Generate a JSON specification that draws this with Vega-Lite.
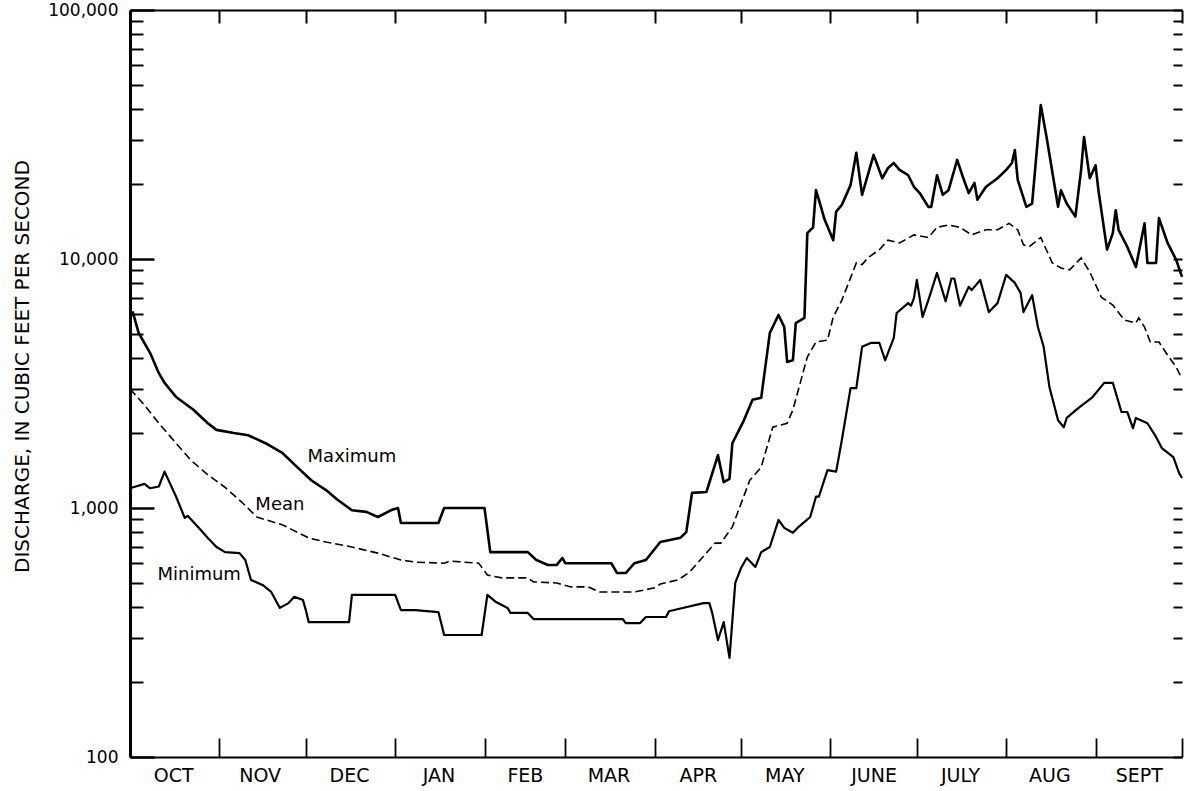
{
  "$schema": "https://vega.github.io/schema/vega-lite/v6.json",
  "width": 1052,
  "height": 747,
  "autosize": {"type": "none"},
  "padding": {"left": 130, "top": 10, "right": 3, "bottom": 34},
  "background": "white",
  "config": {
    "view": {"stroke": null},
    "axis": {
      "grid": false,
      "domainColor": "black",
      "tickColor": "black",
      "labelColor": "black",
      "titleColor": "black",
      "labelFont": "DejaVu Sans",
      "titleFont": "DejaVu Sans",
      "titleFontWeight": "normal"
    }
  },
  "datasets": {
    "maximum": [
      {"day": 0, "cfs": 5800}, {"day": 1, "cfs": 6100}, {"day": 3, "cfs": 5050}, {"day": 7, "cfs": 4190},
      {"day": 10, "cfs": 3480}, {"day": 12, "cfs": 3180}, {"day": 16, "cfs": 2790}, {"day": 22, "cfs": 2480},
      {"day": 27, "cfs": 2190}, {"day": 30, "cfs": 2060}, {"day": 36, "cfs": 2000}, {"day": 41, "cfs": 1960},
      {"day": 47, "cfs": 1820}, {"day": 53, "cfs": 1660}, {"day": 58, "cfs": 1460}, {"day": 63, "cfs": 1290},
      {"day": 68, "cfs": 1180}, {"day": 72, "cfs": 1080}, {"day": 77, "cfs": 980}, {"day": 82, "cfs": 965},
      {"day": 86, "cfs": 920}, {"day": 91, "cfs": 985}, {"day": 93, "cfs": 1000}, {"day": 94, "cfs": 870},
      {"day": 107, "cfs": 870}, {"day": 109, "cfs": 1000}, {"day": 123, "cfs": 1000}, {"day": 125, "cfs": 665},
      {"day": 138, "cfs": 665}, {"day": 141, "cfs": 618}, {"day": 145, "cfs": 590}, {"day": 148, "cfs": 590},
      {"day": 150, "cfs": 630}, {"day": 151, "cfs": 600}, {"day": 167, "cfs": 600}, {"day": 169, "cfs": 548},
      {"day": 172, "cfs": 548}, {"day": 175, "cfs": 600}, {"day": 179, "cfs": 618}, {"day": 184, "cfs": 730},
      {"day": 191, "cfs": 760}, {"day": 193, "cfs": 800}, {"day": 195, "cfs": 1150}, {"day": 200, "cfs": 1160},
      {"day": 204, "cfs": 1630}, {"day": 206, "cfs": 1270}, {"day": 208, "cfs": 1310}, {"day": 209, "cfs": 1820},
      {"day": 213, "cfs": 2250}, {"day": 216, "cfs": 2720}, {"day": 219, "cfs": 2770}, {"day": 222, "cfs": 5050},
      {"day": 225, "cfs": 5960}, {"day": 227, "cfs": 5330}, {"day": 228, "cfs": 3860}, {"day": 230, "cfs": 3920},
      {"day": 231, "cfs": 5530}, {"day": 234, "cfs": 5800}, {"day": 235, "cfs": 12700}, {"day": 237, "cfs": 13400},
      {"day": 238, "cfs": 18900}, {"day": 239, "cfs": 17300}, {"day": 241, "cfs": 14400}, {"day": 244, "cfs": 11900},
      {"day": 245, "cfs": 15500}, {"day": 247, "cfs": 16500}, {"day": 250, "cfs": 19800}, {"day": 252, "cfs": 26700},
      {"day": 254, "cfs": 18100}, {"day": 258, "cfs": 26200}, {"day": 261, "cfs": 21100}, {"day": 263, "cfs": 23200},
      {"day": 265, "cfs": 24300}, {"day": 267, "cfs": 22800}, {"day": 270, "cfs": 21700}, {"day": 272, "cfs": 19500},
      {"day": 274, "cfs": 18400}, {"day": 277, "cfs": 16200}, {"day": 278, "cfs": 16200}, {"day": 280, "cfs": 21700},
      {"day": 282, "cfs": 18100}, {"day": 284, "cfs": 18900}, {"day": 287, "cfs": 25000}, {"day": 289, "cfs": 21300},
      {"day": 291, "cfs": 18400}, {"day": 293, "cfs": 20200}, {"day": 294, "cfs": 17300}, {"day": 297, "cfs": 19500},
      {"day": 301, "cfs": 21100}, {"day": 304, "cfs": 22800}, {"day": 306, "cfs": 24300}, {"day": 307, "cfs": 27400},
      {"day": 308, "cfs": 20800}, {"day": 311, "cfs": 16200}, {"day": 313, "cfs": 16700}, {"day": 316, "cfs": 41500},
      {"day": 318, "cfs": 30900}, {"day": 322, "cfs": 16200}, {"day": 323, "cfs": 18900}, {"day": 325, "cfs": 16700},
      {"day": 328, "cfs": 14800}, {"day": 330, "cfs": 22800}, {"day": 331, "cfs": 30900}, {"day": 333, "cfs": 21100},
      {"day": 335, "cfs": 23800}, {"day": 336, "cfs": 18900}, {"day": 339, "cfs": 10900}, {"day": 341, "cfs": 12700},
      {"day": 342, "cfs": 15700}, {"day": 343, "cfs": 13100}, {"day": 346, "cfs": 11200}, {"day": 349, "cfs": 9290},
      {"day": 352, "cfs": 13900}, {"day": 353, "cfs": 9640}, {"day": 356, "cfs": 9640}, {"day": 357, "cfs": 14600},
      {"day": 360, "cfs": 11600}, {"day": 363, "cfs": 9910}, {"day": 365, "cfs": 8470}
    ],
    "mean": [
      {"day": 0, "cfs": 3000}, {"day": 1, "cfs": 2920}, {"day": 5, "cfs": 2590}, {"day": 10, "cfs": 2190},
      {"day": 16, "cfs": 1820}, {"day": 21, "cfs": 1560}, {"day": 27, "cfs": 1360}, {"day": 33, "cfs": 1210},
      {"day": 39, "cfs": 1050}, {"day": 44, "cfs": 920}, {"day": 53, "cfs": 855}, {"day": 62, "cfs": 758},
      {"day": 68, "cfs": 730}, {"day": 77, "cfs": 697}, {"day": 86, "cfs": 659}, {"day": 94, "cfs": 618},
      {"day": 99, "cfs": 606}, {"day": 109, "cfs": 600}, {"day": 111, "cfs": 612}, {"day": 121, "cfs": 600},
      {"day": 124, "cfs": 538}, {"day": 129, "cfs": 524}, {"day": 138, "cfs": 524}, {"day": 140, "cfs": 505},
      {"day": 148, "cfs": 500}, {"day": 153, "cfs": 482}, {"day": 159, "cfs": 482}, {"day": 163, "cfs": 460},
      {"day": 175, "cfs": 460}, {"day": 182, "cfs": 478}, {"day": 184, "cfs": 495}, {"day": 190, "cfs": 514},
      {"day": 194, "cfs": 550}, {"day": 203, "cfs": 723}, {"day": 205, "cfs": 723}, {"day": 209, "cfs": 840},
      {"day": 215, "cfs": 1290}, {"day": 219, "cfs": 1460}, {"day": 223, "cfs": 2110}, {"day": 228, "cfs": 2190},
      {"day": 230, "cfs": 2480}, {"day": 235, "cfs": 4040}, {"day": 238, "cfs": 4640}, {"day": 242, "cfs": 4720},
      {"day": 244, "cfs": 5850}, {"day": 247, "cfs": 6840}, {"day": 252, "cfs": 9640}, {"day": 254, "cfs": 9500},
      {"day": 256, "cfs": 10100}, {"day": 260, "cfs": 10900}, {"day": 263, "cfs": 11900}, {"day": 267, "cfs": 11600},
      {"day": 272, "cfs": 12500}, {"day": 277, "cfs": 12200}, {"day": 280, "cfs": 13400}, {"day": 284, "cfs": 13700},
      {"day": 288, "cfs": 13400}, {"day": 292, "cfs": 12500}, {"day": 297, "cfs": 13100}, {"day": 301, "cfs": 13100},
      {"day": 305, "cfs": 13900}, {"day": 308, "cfs": 13100}, {"day": 310, "cfs": 11400}, {"day": 312, "cfs": 11200},
      {"day": 316, "cfs": 12200}, {"day": 320, "cfs": 9640}, {"day": 323, "cfs": 9200}, {"day": 326, "cfs": 9040},
      {"day": 330, "cfs": 10100}, {"day": 333, "cfs": 8870}, {"day": 337, "cfs": 7030}, {"day": 341, "cfs": 6530},
      {"day": 345, "cfs": 5690}, {"day": 349, "cfs": 5530}, {"day": 350, "cfs": 5800}, {"day": 352, "cfs": 5330},
      {"day": 354, "cfs": 4640}, {"day": 357, "cfs": 4640}, {"day": 360, "cfs": 4110}, {"day": 363, "cfs": 3680},
      {"day": 365, "cfs": 3300}
    ],
    "minimum": [
      {"day": 0, "cfs": 1200}, {"day": 2, "cfs": 1220}, {"day": 5, "cfs": 1250}, {"day": 7, "cfs": 1200},
      {"day": 10, "cfs": 1220}, {"day": 12, "cfs": 1400}, {"day": 16, "cfs": 1110}, {"day": 19, "cfs": 912},
      {"day": 20, "cfs": 930}, {"day": 24, "cfs": 830}, {"day": 27, "cfs": 758}, {"day": 30, "cfs": 697},
      {"day": 33, "cfs": 665}, {"day": 38, "cfs": 659}, {"day": 40, "cfs": 618}, {"day": 42, "cfs": 514},
      {"day": 46, "cfs": 491}, {"day": 49, "cfs": 460}, {"day": 52, "cfs": 397}, {"day": 55, "cfs": 415},
      {"day": 57, "cfs": 440}, {"day": 60, "cfs": 427}, {"day": 61, "cfs": 389}, {"day": 62, "cfs": 348},
      {"day": 76, "cfs": 348}, {"day": 77, "cfs": 448}, {"day": 92, "cfs": 448}, {"day": 94, "cfs": 389},
      {"day": 99, "cfs": 389}, {"day": 107, "cfs": 382}, {"day": 109, "cfs": 309}, {"day": 122, "cfs": 309},
      {"day": 124, "cfs": 448}, {"day": 127, "cfs": 419}, {"day": 131, "cfs": 397}, {"day": 132, "cfs": 379},
      {"day": 138, "cfs": 379}, {"day": 140, "cfs": 358}, {"day": 171, "cfs": 358}, {"day": 172, "cfs": 345},
      {"day": 177, "cfs": 345}, {"day": 179, "cfs": 365}, {"day": 186, "cfs": 365}, {"day": 187, "cfs": 385},
      {"day": 191, "cfs": 395}, {"day": 199, "cfs": 415}, {"day": 201, "cfs": 415}, {"day": 202, "cfs": 379},
      {"day": 204, "cfs": 295}, {"day": 206, "cfs": 348}, {"day": 208, "cfs": 250}, {"day": 210, "cfs": 500},
      {"day": 212, "cfs": 574}, {"day": 214, "cfs": 630}, {"day": 217, "cfs": 580}, {"day": 219, "cfs": 665},
      {"day": 222, "cfs": 697}, {"day": 225, "cfs": 895}, {"day": 227, "cfs": 832}, {"day": 230, "cfs": 795},
      {"day": 232, "cfs": 840}, {"day": 236, "cfs": 920}, {"day": 238, "cfs": 1110}, {"day": 239, "cfs": 1110},
      {"day": 242, "cfs": 1420}, {"day": 245, "cfs": 1400}, {"day": 247, "cfs": 1880}, {"day": 250, "cfs": 3030},
      {"day": 252, "cfs": 3030}, {"day": 254, "cfs": 4440}, {"day": 257, "cfs": 4600}, {"day": 260, "cfs": 4600},
      {"day": 262, "cfs": 3920}, {"day": 265, "cfs": 4820}, {"day": 266, "cfs": 6070}, {"day": 270, "cfs": 6650},
      {"day": 271, "cfs": 6500}, {"day": 272, "cfs": 6970}, {"day": 273, "cfs": 8240}, {"day": 275, "cfs": 5850},
      {"day": 277, "cfs": 6840}, {"day": 280, "cfs": 8790}, {"day": 283, "cfs": 6760}, {"day": 285, "cfs": 8350},
      {"day": 286, "cfs": 8350}, {"day": 288, "cfs": 6500}, {"day": 291, "cfs": 7730}, {"day": 292, "cfs": 7500},
      {"day": 295, "cfs": 8240}, {"day": 298, "cfs": 6120}, {"day": 301, "cfs": 6650}, {"day": 304, "cfs": 8630},
      {"day": 307, "cfs": 8020}, {"day": 309, "cfs": 7300}, {"day": 310, "cfs": 6120}, {"day": 313, "cfs": 7160},
      {"day": 315, "cfs": 5330}, {"day": 317, "cfs": 4440}, {"day": 319, "cfs": 3060}, {"day": 322, "cfs": 2250},
      {"day": 324, "cfs": 2110}, {"day": 325, "cfs": 2300}, {"day": 329, "cfs": 2520}, {"day": 334, "cfs": 2790},
      {"day": 338, "cfs": 3180}, {"day": 341, "cfs": 3180}, {"day": 344, "cfs": 2430}, {"day": 346, "cfs": 2430},
      {"day": 348, "cfs": 2090}, {"day": 349, "cfs": 2300}, {"day": 353, "cfs": 2190}, {"day": 356, "cfs": 1930},
      {"day": 358, "cfs": 1740}, {"day": 362, "cfs": 1600}, {"day": 364, "cfs": 1380}, {"day": 365, "cfs": 1320}
    ],
    "labels": [
      {"day": 77, "cfs": 1600, "label": "Maximum"},
      {"day": 52, "cfs": 1030, "label": "Mean"},
      {"day": 24, "cfs": 538, "label": "Minimum"}
    ]
  },
  "resolve": {"axis": {"x": "independent", "y": "independent"}},
  "layer": [
    {
      "data": {"name": "maximum"},
      "mark": {"type": "line", "color": "black", "strokeWidth": 2.6, "strokeJoin": "round"},
      "encoding": {
        "x": {
          "field": "day", "type": "quantitative",
          "scale": {"domain": [0, 365], "nice": false, "zero": false},
          "axis": {
            "orient": "bottom",
            "values": [15, 45, 76, 107, 137, 166, 197, 227, 258, 288, 319, 350],
            "labelExpr": "['OCT','NOV','DEC','JAN','FEB','MAR','APR','MAY','JUNE','JULY','AUG','SEPT'][indexof([15,45,76,107,137,166,197,227,258,288,319,350], datum.value)]",
            "ticks": false,
            "labelPadding": 9,
            "labelFontSize": 19,
            "labelFlush": false,
            "labelOverlap": false,
            "domainWidth": 2,
            "title": null
          }
        },
        "y": {
          "field": "cfs", "type": "quantitative",
          "scale": {"type": "log", "domain": [100, 100000], "nice": false},
          "axis": {
            "orient": "left",
            "values": [100, 1000, 10000, 100000],
            "labelExpr": "format(datum.value, ',')",
            "ticks": false,
            "labelPadding": 12,
            "labelFontSize": 17,
            "labelFlush": false,
            "domainWidth": 3,
            "title": "DISCHARGE, IN CUBIC FEET PER SECOND",
            "titleFontSize": 20,
            "titleX": -108,
            "titleY": 356,
            "titleAngle": 270,
            "titleAlign": "center",
            "titleBaseline": "middle"
          }
        }
      }
    },
    {
      "data": {"name": "mean"},
      "mark": {"type": "line", "color": "black", "strokeWidth": 1.6, "strokeDash": [8, 4]},
      "encoding": {
        "x": {
          "field": "day", "type": "quantitative",
          "axis": {
            "orient": "bottom",
            "values": [0, 31, 61, 92, 123, 151, 182, 212, 243, 273, 304, 335, 365],
            "tickSize": -19, "tickWidth": 1.8,
            "labels": false, "domain": false, "title": null
          }
        },
        "y": {
          "field": "cfs", "type": "quantitative",
          "axis": {
            "orient": "left",
            "values": [100, 1000, 10000, 100000],
            "tickSize": -24, "tickWidth": 2.5,
            "labels": false, "domain": false, "title": null
          }
        }
      }
    },
    {
      "data": {"name": "minimum"},
      "mark": {"type": "line", "color": "black", "strokeWidth": 2.2, "strokeJoin": "round"},
      "encoding": {
        "x": {
          "field": "day", "type": "quantitative",
          "axis": {
            "orient": "top",
            "values": [0, 31, 61, 92, 123, 151, 182, 212, 243, 273, 304, 335, 365],
            "tickSize": -13, "tickWidth": 2,
            "labels": false, "domainWidth": 2, "title": null
          }
        },
        "y": {
          "field": "cfs", "type": "quantitative",
          "axis": {
            "orient": "left",
            "values": [200, 300, 400, 500, 600, 700, 800, 900, 2000, 3000, 4000, 5000, 6000, 7000, 8000, 9000, 20000, 30000, 40000, 50000, 60000, 70000, 80000, 90000],
            "tickSize": -13, "tickWidth": 2,
            "labels": false, "domain": false, "title": null
          }
        }
      }
    },
    {
      "data": {"name": "labels"},
      "mark": {"type": "text", "font": "DejaVu Sans", "fontSize": 18, "color": "black", "align": "center", "baseline": "middle"},
      "encoding": {
        "x": {"field": "day", "type": "quantitative", "axis": null},
        "y": {
          "field": "cfs", "type": "quantitative",
          "axis": {
            "orient": "right",
            "values": [100, 200, 300, 400, 500, 600, 700, 800, 900, 1000, 2000, 3000, 4000, 5000, 6000, 7000, 8000, 9000, 10000, 20000, 30000, 40000, 50000, 60000, 70000, 80000, 90000, 100000],
            "tickSize": -9, "tickWidth": 2,
            "labels": false, "domain": false, "title": null
          }
        },
        "text": {"field": "label"}
      }
    }
  ]
}
